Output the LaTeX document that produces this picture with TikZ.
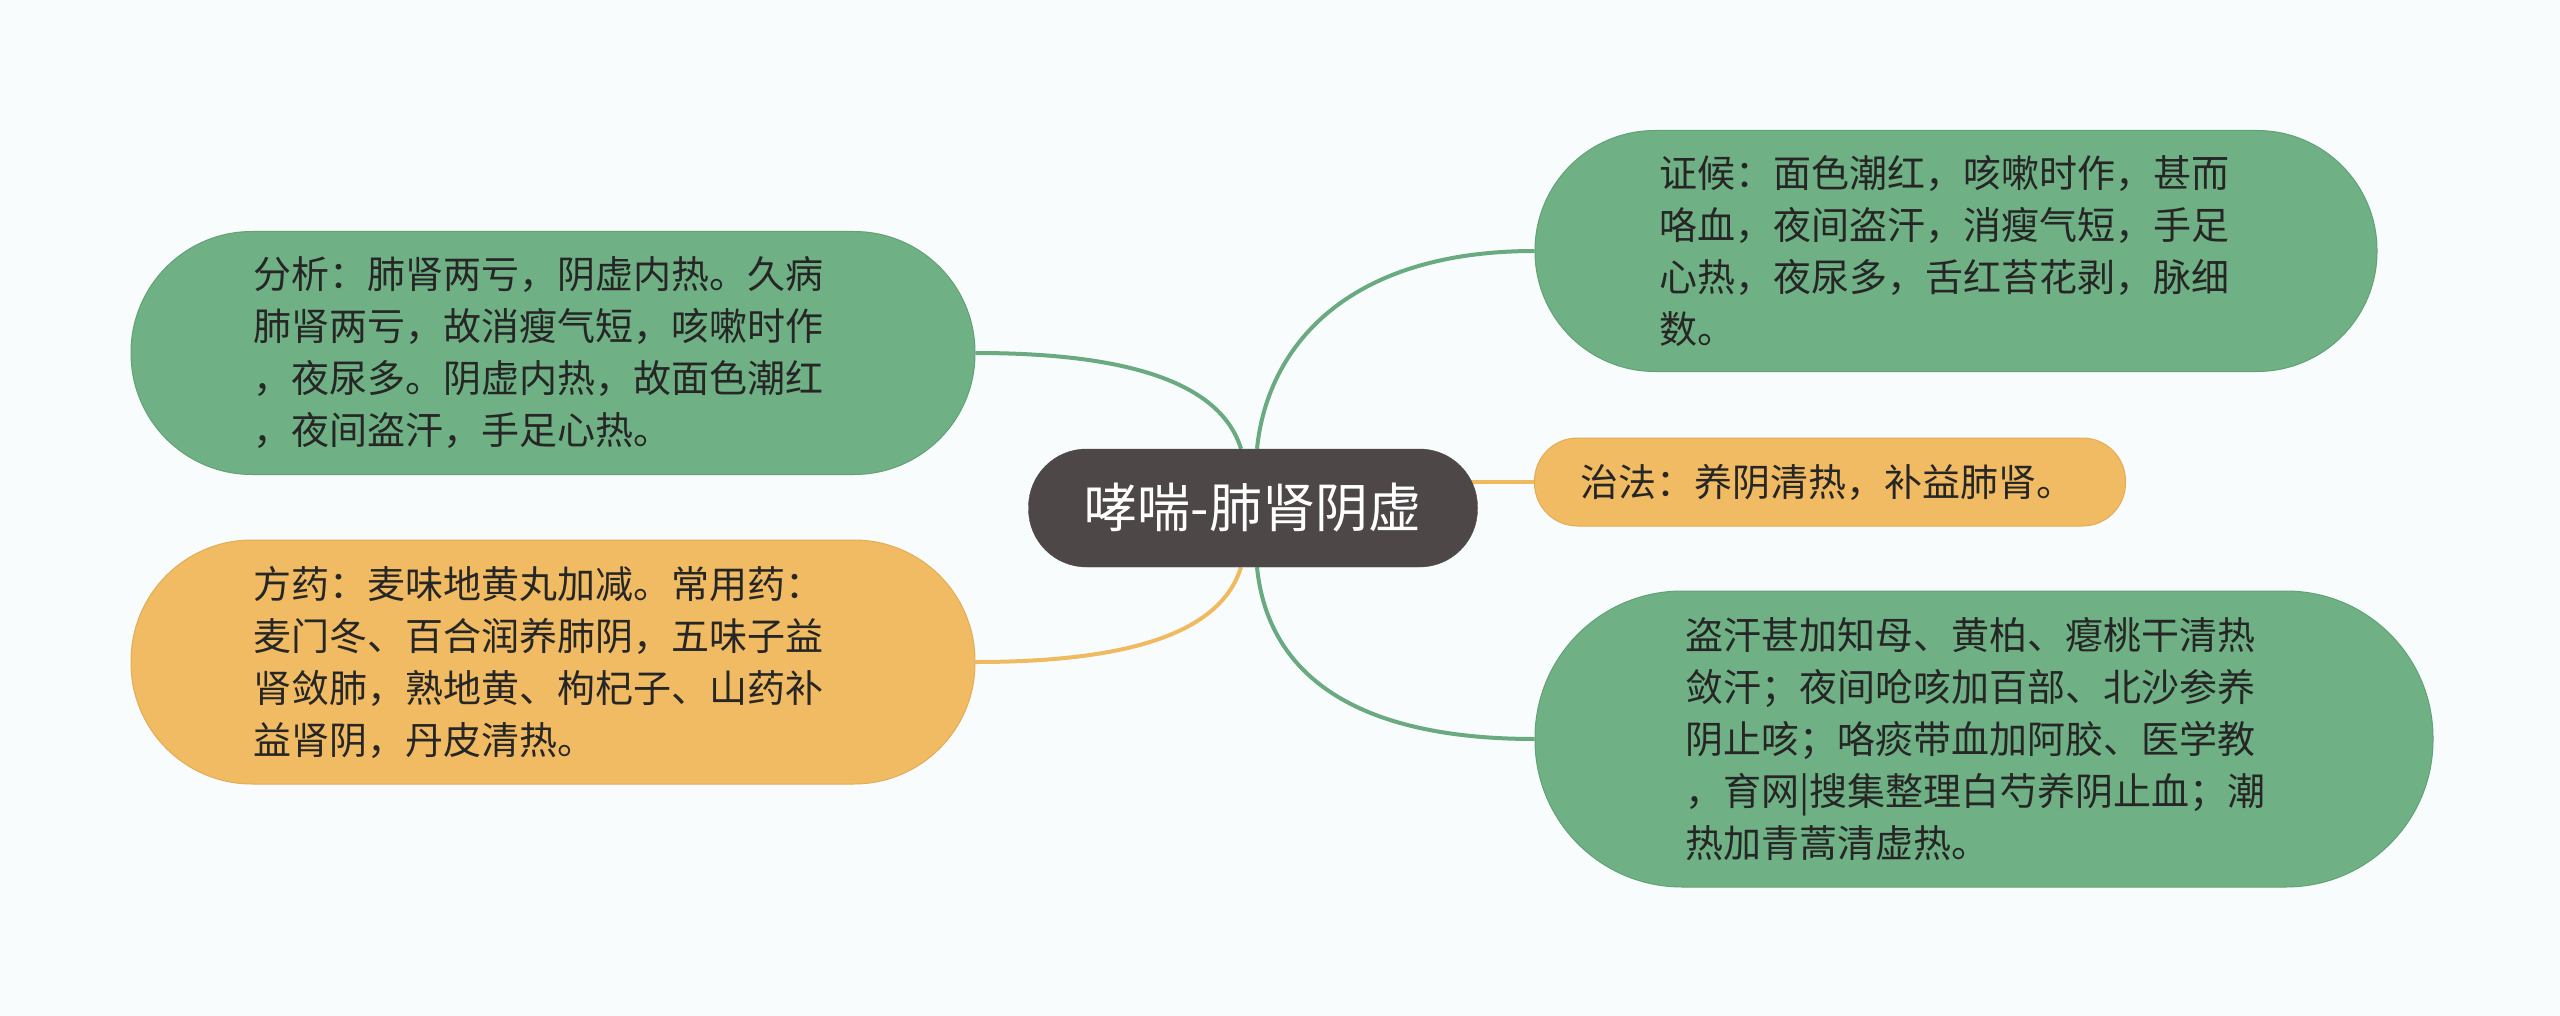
\documentclass[tikz,border=0pt]{standalone}
\usepackage{fontspec}
\setmainfont{Noto Sans CJK SC}
\usetikzlibrary{backgrounds}
\definecolor{bgc}{HTML}{F8FCFC}
\definecolor{lgreen}{HTML}{6FB085}
\definecolor{lgreenb}{HTML}{62A277}
\definecolor{lorange}{HTML}{F0BB62}
\definecolor{lorangeb}{HTML}{E3AD55}
\definecolor{darkc}{HTML}{4D4747}
\definecolor{txtc}{HTML}{262626}
\definecolor{gline}{HTML}{69AA80}
\definecolor{oline}{HTML}{F0BA60}
\tikzset{
  leaf/.style={rectangle, inner sep=0pt, align=left, text=txtc,
    font=\fontsize{38pt}{52pt}\selectfont, line width=1pt},
  greenleaf/.style={leaf, fill=lgreen, draw=lgreenb},
  orangeleaf/.style={leaf, fill=lorange, draw=lorangeb},
  rootnode/.style={rectangle, inner sep=0pt, fill=darkc, draw=darkc, text=white,
    font=\fontsize{53pt}{62pt}\selectfont},
  gconn/.style={draw=gline, line width=4pt},
  oconn/.style={draw=oline, line width=4pt}
}
\begin{document}
\begin{tikzpicture}[x=1pt,y=-1pt]
\useasboundingbox (0,0) rectangle (2560,1016);

\node[rootnode, minimum width=449pt, minimum height=118pt, rounded corners=58pt] (c) at (1253,508) {哮喘-肺肾阴虚};

\node[greenleaf, minimum width=844pt, minimum height=243pt, text width=600pt, rounded corners=121pt] (fx) at (553,353)
 {分析：肺肾两亏，阴虚内热。久病\\肺肾两亏，故消瘦气短，咳嗽时作\\，夜尿多。阴虚内热，故面色潮红\\，夜间盗汗，手足心热。};

\node[orangeleaf, minimum width=844pt, minimum height=244pt, text width=600pt, rounded corners=121pt] (fy) at (553,662)
 {方药：麦味地黄丸加减。常用药：\\麦门冬、百合润养肺阴，五味子益\\肾敛肺，熟地黄、枸杞子、山药补\\益肾阴，丹皮清热。};

\node[greenleaf, minimum width=842pt, minimum height=241pt, text width=594pt, rounded corners=120pt] (zh) at (1956,251)
 {证候：面色潮红，咳嗽时作，甚而\\咯血，夜间盗汗，消瘦气短，手足\\心热，夜尿多，舌红苔花剥，脉细\\数。};

\node[orangeleaf, minimum width=591pt, minimum height=88pt, text width=500pt, rounded corners=43pt] (zf) at (1830,482)
 {治法：养阴清热，补益肺肾。};

\node[greenleaf, minimum width=898pt, minimum height=296pt, text width=598pt, rounded corners=147pt] (ds) at (1984,739)
 {盗汗甚加知母、黄柏、瘪桃干清热\\敛汗；夜间呛咳加百部、北沙参养\\阴止咳；咯痰带血加阿胶、医学教\\，育网|搜集整理白芍养阴止血；潮\\热加青蒿清虚热。};

\begin{pgfonlayer}{background}
\fill[bgc] (0,0) rectangle (2560,1016);
\draw[gconn] (fx.east) .. controls +(148,0) and +(-21,-68) .. ([xshift=-12pt]c.north);
\draw[oconn] (fy.east) .. controls +(148,0) and +(-21,68) .. ([xshift=-12pt]c.south);
\draw[gconn] ([xshift=4pt]c.north) .. controls +(10,-100) and +(-190,0) .. (zh.west);
\draw[gconn] ([xshift=4pt]c.south) .. controls +(10,100) and +(-190,0) .. (ds.west);
\draw[oconn] (zf.west) -- (zf.west -| c.center);
\end{pgfonlayer}
\end{tikzpicture}
\end{document}
